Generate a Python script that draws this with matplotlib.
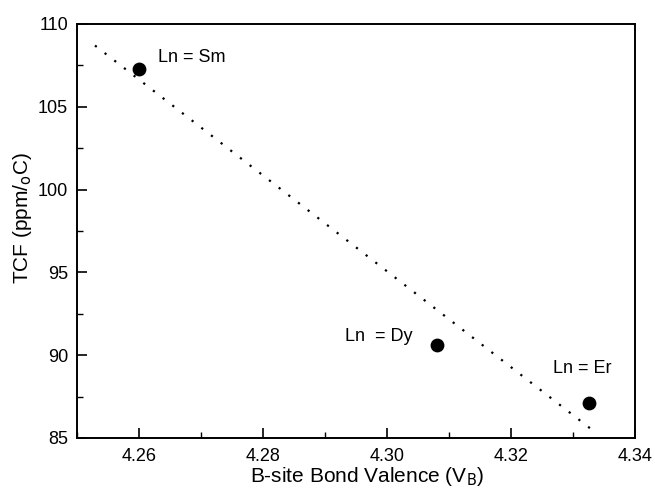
import matplotlib
matplotlib.use("Agg")
import matplotlib.pyplot as plt
from matplotlib.ticker import MultipleLocator

plt.rcParams['font.family'] = ['Liberation Sans', 'DejaVu Sans']

bond_valence = [4.260, 4.308, 4.3326]
tcf = [107.3, 90.6, 87.1]
labels = ["Ln = Sm", "Ln  = Dy", "Ln = Er"]
label_pos = [(4.2630, 107.95), (4.2932, 91.1), (4.3268, 89.2)]
fit_x = [4.2529, 4.3334]
fit_y = [108.7, 85.4]

fig = plt.figure(figsize=(6.55, 4.9), dpi=100)
ax = fig.add_axes([77/655, 1-438/490, (635-77)/655, (438-24)/490])

ax.plot(fit_x, fit_y, linestyle=(0, (1, 4.5)), color='black', lw=1.6)
ax.scatter(bond_valence, tcf, s=80, color='black', zorder=3)
for t, (x, y) in zip(labels, label_pos):
    ax.text(x, y, t, fontsize=13, va='center', ha='left')

ax.set_xlim(4.25, 4.34)
ax.set_ylim(85, 110)
ax.xaxis.set_minor_locator(MultipleLocator(0.01))
ax.yaxis.set_major_locator(MultipleLocator(5))
ax.yaxis.set_minor_locator(MultipleLocator(2.5))
ax.set_xticks([4.26, 4.28, 4.30, 4.32, 4.34])
ax.set_xticklabels(["4.26", "4.28", "4.30", "4.32", "4.34"])
ax.tick_params(which='major', direction='in', length=7, width=1.2, labelsize=13, pad=7)
ax.tick_params(which='minor', direction='in', length=4, width=1.0)
ax.tick_params(axis='y', which='major', pad=6.5)
for s in ax.spines.values():
    s.set_linewidth(1.4)

ax.set_xlabel("B-site Bond Valence (V$_\\mathrm{B}$)", fontsize=15)
ax.set_ylabel("TCF (ppm/$_\\mathrm{o}$C)", fontsize=15)
ax.xaxis.set_label_coords((367-77)/558, -(465-438)/414)
ax.yaxis.set_label_coords(-(77-34)/558, 0.531)

fig.savefig("out.png", dpi=100)
